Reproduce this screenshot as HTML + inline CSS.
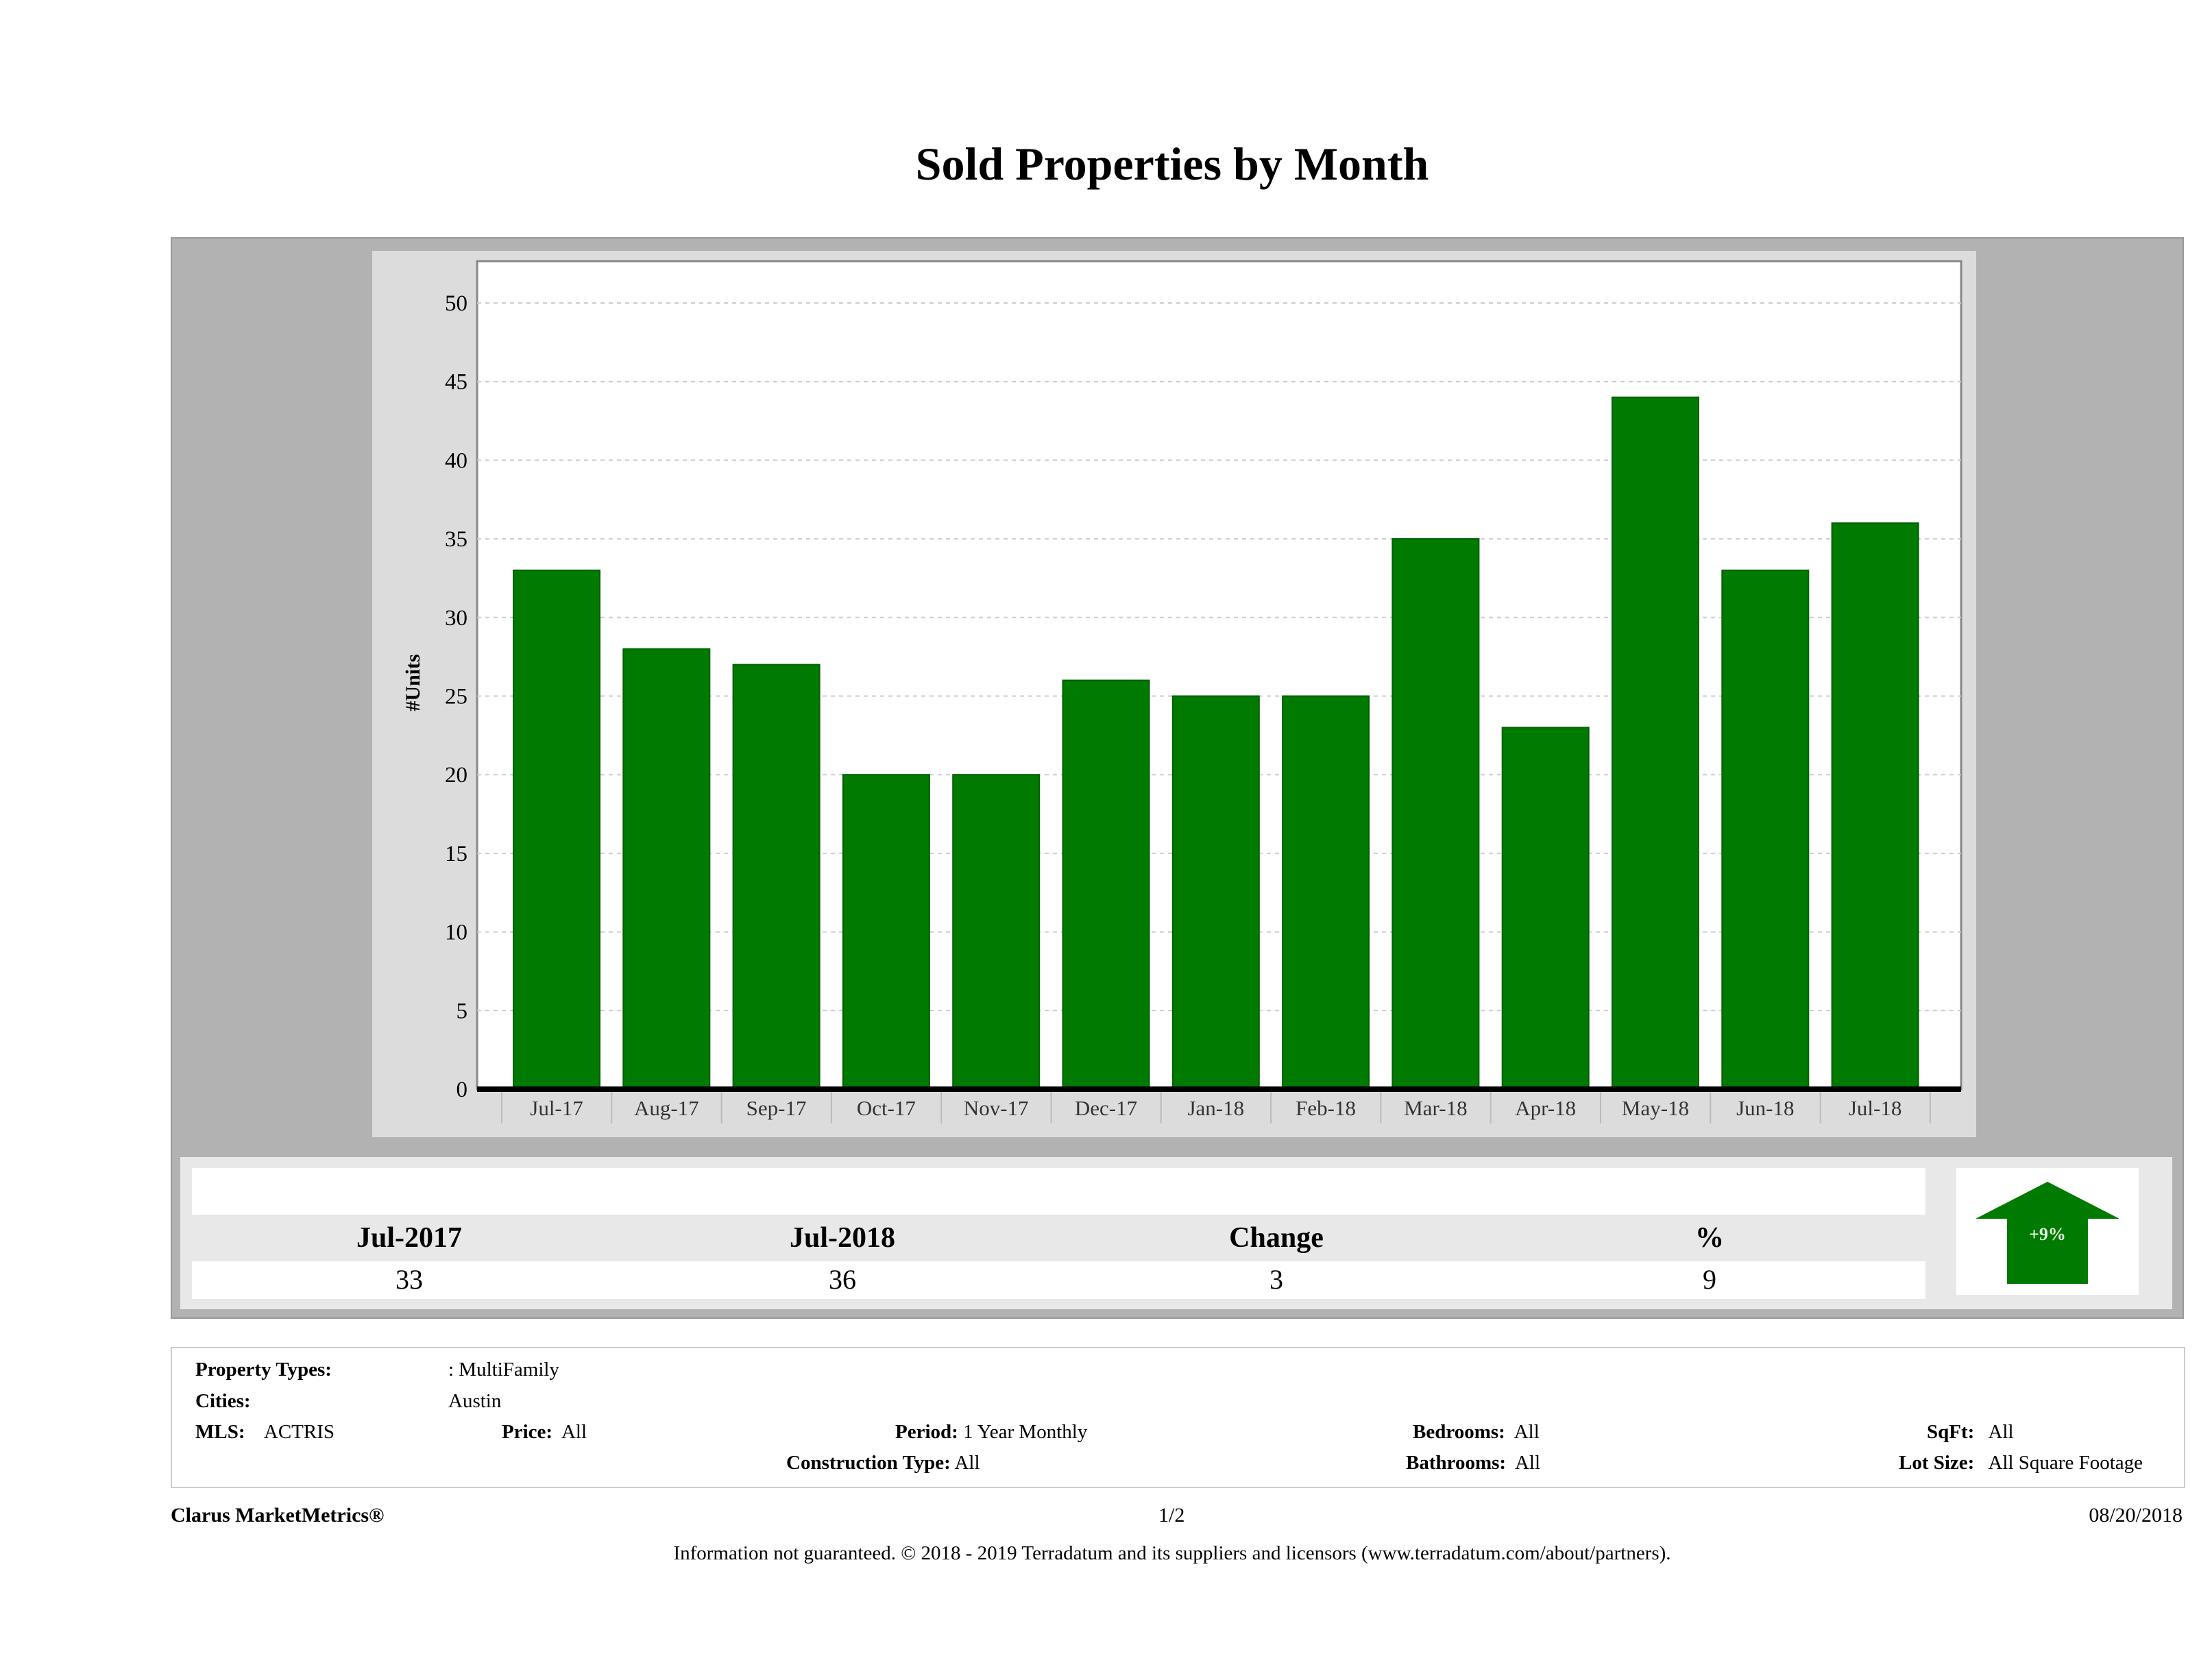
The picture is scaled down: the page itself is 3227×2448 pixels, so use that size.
<!DOCTYPE html>
<html><head><meta charset="utf-8"><style>
body{margin:0;width:3227px;height:2448px;background:#fff;font-family:"Liberation Serif",serif;overflow:hidden;position:relative}
.a{position:absolute}
</style></head><body>
<div class="a" style="left:0;width:3420px;top:200px;text-align:center;font-size:68px;font-weight:bold">Sold Properties by Month</div>
<div class="a" style="left:249px;top:346px;width:2933px;height:1574px;background:#b2b2b2;border:2px solid #999"></div>
<div class="a" style="left:543px;top:366px;width:2340px;height:1293px;background:#dcdcdc"></div>
<div class="a" style="left:263px;top:1688px;width:2906px;height:222px;background:#e8e8e8"></div>
<div class="a" style="left:280px;top:1704px;width:2529px;height:68px;background:#fff"></div>
<div class="a" style="left:280px;top:1840px;width:2529px;height:55px;background:#fff"></div>
<div class="a" style="left:2854px;top:1704px;width:266px;height:185px;background:#fff"></div>
<svg class="a" style="left:2854px;top:1704px" width="266" height="185">
<polygon points="133,20 238,74 192,74 192,169 74,169 74,74 28,74" fill="#007a00"/>
<text x="133" y="105" text-anchor="middle" font-size="26" font-weight="bold" fill="#e8ffe8" font-family="Liberation Serif">+9%</text>
</svg>
<div id="summary"></div>
<svg id="chart" class="a" style="left:0;top:0" width="3227" height="1700"></svg>
<div class="a" style="left:249px;top:1965px;width:2935px;height:202px;border:2px solid #ccc"></div>
<div id="info"></div>
<div class="a" style="left:249px;top:2194px;font-size:30px;font-weight:bold">Clarus MarketMetrics®</div>
<div class="a" style="left:1690px;top:2194px;font-size:30px">1/2</div>
<div class="a" style="right:43px;top:2194px;font-size:30px">08/20/2018</div>
<div class="a" style="left:0;width:3420px;top:2250px;text-align:center;font-size:29px">Information not guaranteed. © 2018 - 2019 Terradatum and its suppliers and licensors (www.terradatum.com/about/partners).</div>
<script>
const categories=["Jul-17","Aug-17","Sep-17","Oct-17","Nov-17","Dec-17","Jan-18","Feb-18","Mar-18","Apr-18","May-18","Jun-18","Jul-18"];
const units=[33,28,27,20,20,26,25,25,35,23,44,33,36];
const yTicks=[0,5,10,15,20,25,30,35,40,45,50];
const NS="http://www.w3.org/2000/svg";
const svg=document.getElementById('chart');
const px0=696,px1=2861,py0=1589,pyTop=381;
const y=v=>py0-v*(py0-442)/50;
const step=160.3, bw=126, bx0=749;
const x=i=>bx0+i*step;
function mk(t,a){const e=document.createElementNS(NS,t);for(const k in a)e.setAttribute(k,a[k]);svg.appendChild(e);return e;}
let e=mk('rect',{x:px0,y:pyTop,width:px1-px0,height:py0-pyTop,fill:'#fff',stroke:'#888','stroke-width':3});

yTicks.forEach(v=>{
 let g=mk('line',{x1:px0,x2:px1,y1:y(v),y2:y(v),stroke:'#ccc','stroke-width':2,'stroke-dasharray':'6,6'});
 
 let t=mk('text',{x:px0-14,y:y(v)+11,'text-anchor':'end','font-size':33,'font-family':'Liberation Serif'});
 t.textContent=v;
 
});
units.forEach((v,i)=>{
 let b=mk('rect',{x:x(i),y:y(v),width:bw,height:py0-y(v),fill:'#007a00',stroke:'#006000','stroke-width':2});
 
 let t=mk('text',{x:x(i)+bw/2,y:py0+38,'text-anchor':'middle','font-size':31,'font-family':'Liberation Serif',fill:'#333'});
 t.textContent=categories[i];
 
 let s=mk('line',{x1:x(i)-17,x2:x(i)-17,y1:py0,y2:py0+50,stroke:'#bbb','stroke-width':2});
 
});
let s2=mk('line',{x1:x(13)-17,x2:x(13)-17,y1:py0,y2:py0+50,stroke:'#bbb','stroke-width':2});

let ax=mk('line',{x1:px0,x2:px1,y1:py0,y2:py0,stroke:'#000','stroke-width':8});

let yt=mk('text',{x:0,y:0,transform:'translate(612,996) rotate(-90)','text-anchor':'middle','font-size':30,'font-weight':'bold','font-family':'Liberation Serif'});
yt.textContent='#Units';

const sumHeads=["Jul-2017","Jul-2018","Change","%"];
const sumVals=["33","36","3","9"];
const cx=[597,1229,1862,2494];
const sd=document.getElementById('summary');
sumHeads.forEach((h,i)=>{
 let d=document.createElement('div');d.className='a';d.style.cssText=`left:${cx[i]-200}px;width:400px;top:1782px;text-align:center;font-size:42px;font-weight:bold`;d.textContent=h;
 sd.appendChild(d);
 let v=document.createElement('div');v.className='a';v.style.cssText=`left:${cx[i]-200}px;width:400px;top:1843px;text-align:center;font-size:40px`;v.textContent=sumVals[i];
 sd.appendChild(v);
});
const info=[["<b>Property Types:</b>",285,1982],[": MultiFamily",654,1982],["<b>Cities:</b>",285,2028],["Austin",654,2028],
["<b>MLS:</b>&nbsp;&nbsp;&nbsp; ACTRIS",285,2073],["<b>Price:</b>&nbsp; All",732,2073],["<b>Period:</b> 1 Year Monthly",1306,2073],
["<b>Bedrooms:</b>&nbsp; All",2061,2073],["<b>SqFt:</b>&nbsp;&nbsp; All",2811,2073],
["<b>Construction Type:</b> All",1147,2118],["<b>Bathrooms:</b>&nbsp; All",2051,2118],["<b>Lot Size:</b>&nbsp;&nbsp; All Square Footage",2770,2118]];
const inf=document.getElementById('info');
info.forEach(r=>{let d=document.createElement('div');d.className='a';d.style.cssText=`left:${r[1]}px;top:${r[2]}px;font-size:29px;white-space:nowrap`;d.innerHTML=r[0];
 inf.appendChild(d);});
</script>
</body></html>
